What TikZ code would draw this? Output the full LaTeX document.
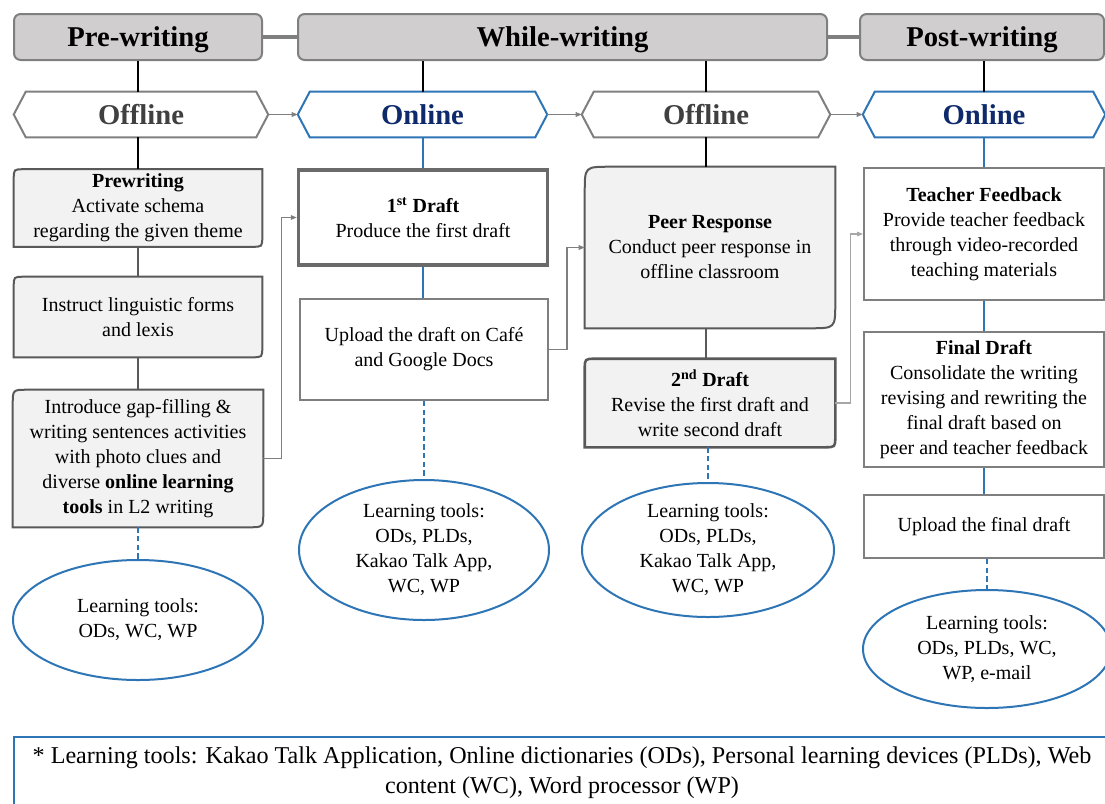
\documentclass[tikz,border=0pt]{standalone}
\usepackage{fontspec}
\setmainfont{Liberation Serif}
\usetikzlibrary{shapes.geometric,arrows.meta,backgrounds}
\definecolor{hdrgray}{HTML}{D0CECE}
\definecolor{boxgray}{HTML}{F2F2F2}
\definecolor{edgegray}{HTML}{7F7F7F}
\definecolor{lightedge}{HTML}{A6A6A6}
\definecolor{darkedge}{HTML}{595959}
\definecolor{lineblue}{HTML}{2E75B6}
\definecolor{navytext}{HTML}{0E2A6B}
\definecolor{offtext}{HTML}{404040}
% pointed hexagon round a named node
\newcommand{\hexbox}[2]{%
  \draw[#2, line width=1.5pt] (#1.west) -- ([xshift=9pt]#1.north west) -- ([xshift=-9pt]#1.north east) -- (#1.east) -- ([xshift=-9pt]#1.south east) -- ([xshift=9pt]#1.south west) -- cycle;}
% box with round top-left and bottom-right corners
\newcommand{\cutbox}[3]{%
  \begin{pgfonlayer}{background}
  \draw[darkedge, fill=boxgray, line width=#3] ([yshift=-#2]#1.north west) .. controls (#1.north west) .. ([xshift=#2]#1.north west) -- (#1.north east) -- ([yshift=#2]#1.south east) .. controls (#1.south east) .. ([xshift=-#2]#1.south east) -- (#1.south west) -- cycle;
  \end{pgfonlayer}}
\begin{document}
\begin{tikzpicture}[x=0.75pt, y=-0.75pt,
  sz/.style 2 args={minimum width=#1*0.75pt, minimum height=#2*0.75pt},
  txt/.style={align=center, inner sep=0pt, font=\fontsize{15}{18.75}\selectfont},
  hdr/.style={draw=edgegray, line width=1.5pt, fill=hdrgray, rounded corners=5pt, inner sep=0pt, text depth=0pt, font=\fontsize{21.5}{24}\selectfont\bfseries},
  phase/.style={inner sep=0pt, font=\fontsize{21.5}{24}\selectfont\bfseries},
  whitebox/.style={txt, draw=edgegray, line width=1.5pt},
  tool/.style={txt, ellipse, draw=lineblue, line width=1.5pt},
  stem/.style={line width=1.5pt},
  greystem/.style={darkedge, line width=2.2pt},
  bluestem/.style={lineblue, line width=2.2pt},
  dotstem/.style={lineblue, line width=1.5pt, dash pattern=on 4pt off 2.5pt},
  flow/.style={edgegray, line width=0.8pt, -{Triangle[length=4.5pt,width=3.5pt]}}]
\useasboundingbox (0,0) rectangle (1105,803);
\clip (0,0) rectangle (1105,803);
% stages
\node[hdr, sz={248}{46}] (pre) at (138,37) {Pre-writing};
\node[hdr, sz={529}{46}] (while) at (562.5,37) {While-writing};
\node[hdr, sz={244}{46}] (post) at (982,37) {Post-writing};
\draw[edgegray, line width=3pt] (pre) -- (while);
\draw[edgegray, line width=3pt] (while) -- (post);
% modes
\node[phase, offtext, sz={254}{45}] (off1) at (141,114.5) {Offline};
\node[phase, navytext, sz={249}{45}] (on1) at (422.5,114.5) {Online};
\node[phase, offtext, sz={248}{45}] (off2) at (706,114.5) {Offline};
\node[phase, navytext, sz={242}{45}] (on2) at (984,114.5) {Online};
\hexbox{off1}{edgegray}
\hexbox{on1}{lineblue}
\hexbox{off2}{edgegray}
\hexbox{on2}{lineblue}
\draw[flow] (off1) -- (on1);
\draw[flow] (on1) -- (off2);
\draw[flow] (off2) -- (on2);
% pre-writing column
\node[txt, sz={248}{77}] (A) at (138,208) {\textbf{Prewriting}\\Activate schema\\regarding the given theme};
\node[txt, sz={248}{80}] (B) at (138,317) {Instruct linguistic forms\\and lexis};
\node[txt, sz={250}{137}] (C) at (138,458.5) {Introduce gap-filling \&\\writing sentences activities\\with photo clues and\\diverse \textbf{online learning}\\\textbf{tools} in L2 writing};
\node[tool, sz={250}{120}] (el1) at (138,620) {Learning tools:\\ODs, WC, WP};
\cutbox{A}{7.5pt}{1.5pt}
\cutbox{B}{7.5pt}{1.5pt}
\cutbox{C}{11pt}{1.5pt}
\draw[stem] (pre.south -| A) -- (off1.north -| A);
\draw[stem] (off1.south -| A) -- (A.north);
\draw[greystem] (A) -- (B);
\draw[greystem] (B) -- (C);
\draw[dotstem] (C) -- (el1);
% online drafting column
\node[whitebox, draw=darkedge!90, line width=2.6pt, sz={249}{95}] (D) at (423,217.5) {\textbf{1\textsuperscript{st} Draft}\\Produce the first draft};
\node[whitebox, sz={248}{101}] (E) at (424,349.5) {Upload the draft on Café\\and Google Docs};
\node[tool, sz={250}{140}] (el2) at (424,550) {Learning tools:\\ODs, PLDs,\\Kakao Talk App,\\WC, WP};
\draw[stem] (while.south -| on1) -- (on1.north);
\draw[bluestem] (on1.south -| D) -- (D.north);
\draw[bluestem] (D.south) -- (D.south |- E.north);
\draw[dotstem] (E) -- (el2);
% offline peer response column
\node[txt, sz={250}{161}] (F) at (710,247.5) {\textbf{Peer Response}\\Conduct peer response in\\offline classroom};
\node[txt, sz={250}{88}] (G) at (710,403) {\textbf{2\textsuperscript{nd} Draft}\\Revise the first draft and\\write second draft};
\node[tool, sz={252}{134}] (el3) at (708,550) {Learning tools:\\ODs, PLDs,\\Kakao Talk App,\\WC, WP};
\cutbox{F}{19pt}{1.5pt}
\cutbox{G}{8pt}{1.9pt}
\draw[stem] (while.south -| off2) -- (off2.north);
\draw[stem] (off2.south) -- (off2.south |- F.north);
\draw[greystem] (F.south -| off2) -- (G.north -| off2);
\draw[dotstem] (G.south -| el3) -- (el3.north);
% post-writing column
\node[whitebox, sz={240}{132}] (H) at (984,234) {\textbf{Teacher Feedback}\\Provide teacher feedback\\through video-recorded\\teaching materials};
\node[whitebox, sz={240}{135}] (I) at (984,399.5) {\textbf{Final Draft}\\Consolidate the writing\\revising and rewriting the\\final draft based on\\peer and teacher feedback};
\node[whitebox, sz={240}{63}] (J) at (984,526.5) {Upload the final draft};
\node[tool, sz={248}{118}] (el4) at (987,649) {Learning tools:\\ODs, PLDs, WC,\\WP, e-mail};
\draw[stem] (post.south -| on2) -- (on2.north);
\draw[bluestem] (on2) -- (H);
\draw[bluestem] (H) -- (I);
\draw[bluestem] (I) -- (J);
\draw[dotstem] (J.south -| el4) -- (el4.north);
% hand-overs between columns
\draw[flow] (C.east) -- ++(18,0) |- (D.west);
\draw[flow] (E.east) -- ++(18,0) |- (F.west);
\draw[flow, lightedge] (G.east) -- ++(15,0) |- (H.west);
% footnote
\node[txt, draw=lineblue, line width=1.5pt, sz={1096}{72}, font=\fontsize{18.1}{22.5}\selectfont] (note) at (562,773) {* Learning tools: Kakao Talk Application, Online dictionaries (ODs), Personal learning devices (PLDs), Web\\content (WC), Word processor (WP)};
\end{tikzpicture}
\end{document}
